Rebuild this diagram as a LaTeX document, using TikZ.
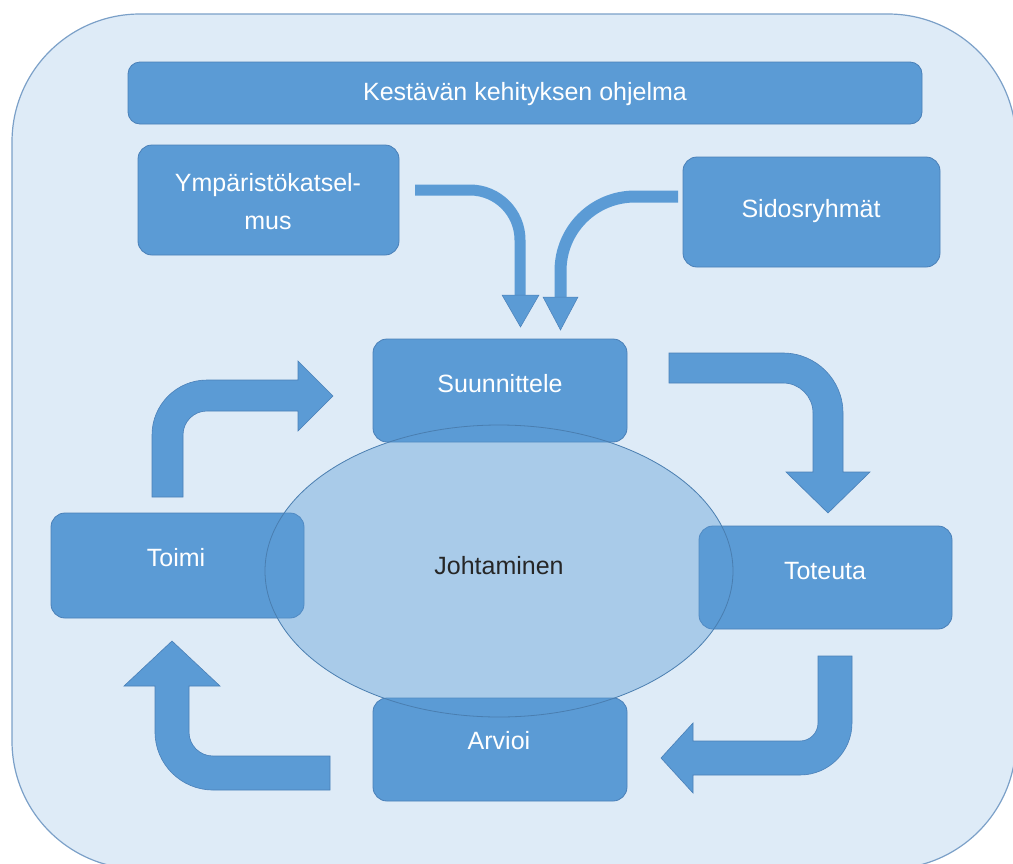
\documentclass[tikz,border=0pt]{standalone}
\usepackage{fontspec}
\setmainfont{Liberation Sans}
\definecolor{boxfill}{HTML}{5B9BD5}
\definecolor{boxline}{HTML}{4A80B8}
\definecolor{bgfill}{HTML}{DEEBF7}
\definecolor{bgline}{HTML}{7BA0C8}
\definecolor{elline}{HTML}{4A7EB0}
\definecolor{darktext}{HTML}{262626}
\begin{document}
\begin{tikzpicture}[x=1pt,y=-1pt,
  boxnode/.style={rectangle, rounded corners=14pt, fill=boxfill, draw=boxline, line width=0.8pt, inner sep=0pt},
  lbl/.style={font=\fontsize{25}{38}\selectfont, text=white, inner sep=0pt, text height=18pt, text depth=0pt},
  blockarrow/.style={fill=boxfill, draw=boxline, line width=0.6pt},
  thinarrow/.style={draw=boxfill, line cap=butt},
  thinhead/.style={fill=boxfill, draw=boxline, line width=0.5pt}]
\useasboundingbox (0,0) rectangle (1013,863);
% container (runs slightly past the right and bottom edges)
\begin{scope}
\clip (0,0) rectangle (1013,863);
\draw[fill=bgfill, draw=bgline, line width=1.2pt, rounded corners=128pt] (12,14) rectangle (1016,869);
\end{scope}
% boxes
\node[boxnode, rounded corners=12pt, minimum width=794pt, minimum height=62pt] (title) at (525,93) {};
\node[boxnode, minimum width=261pt, minimum height=110pt] (ymp) at (268.5,200) {};
\node[boxnode, minimum width=257pt, minimum height=110pt] (sid) at (811.5,212) {};
\node[boxnode, minimum width=254pt, minimum height=103pt] (suun) at (500,390.5) {};
\node[boxnode, minimum width=253pt, minimum height=105pt] (toimi) at (177.5,565.5) {};
\node[boxnode, minimum width=253pt, minimum height=103pt] (tot) at (825.5,577.5) {};
\node[boxnode, minimum width=254pt, minimum height=103pt] (arv) at (500,749.5) {};
% thin curved arrows from top boxes
\coordinate (t1s) at (415,190);
\coordinate (t1e) at (520,296);
\draw[thinarrow, line width=11pt] (t1s) -- (470,190) .. controls (497.6,190) and (520,212.4) .. (520,240) -- (t1e);
\fill[thinhead] (502,295) -- (539,295) -- (520.5,327) -- cycle;
\coordinate (t2s) at (678,196.5);
\coordinate (t2e) at (560.5,298);
\draw[thinarrow, line width=12pt] (t2s) -- (635,196.5) .. controls (593.6,196.5) and (560.5,229.6) .. (560.5,271) -- (t2e);
\fill[thinhead] (543,297) -- (578,297) -- (560.5,330) -- cycle;
% block arrows of the cycle
\filldraw[blockarrow] (669,353) -- (783,353) .. controls (816.1,353) and (843,379.9) .. (843,413) -- (843,472) -- (870,472) -- (828,513) -- (786,472) -- (813,472) -- (813,413) .. controls (813,396.4) and (799.6,383) .. (783,383) -- (669,383) -- cycle;
\filldraw[blockarrow] (818,656) -- (852,656) -- (852,723) .. controls (852,751.7) and (828.7,775) .. (800,775) -- (693,775) -- (693,793) -- (661,758) -- (693,723) -- (693,741) -- (800,741) .. controls (809.9,741) and (818,732.9) .. (818,723) -- cycle;
\filldraw[blockarrow] (330,756) -- (330,790) -- (213,790) .. controls (181,790) and (155,764) .. (155,732) -- (155,686) -- (124,686) -- (172,641) -- (220,686) -- (189,686) -- (189,732) .. controls (189,745.3) and (199.7,756) .. (213,756) -- cycle;
\filldraw[blockarrow] (152,497) -- (152,435) .. controls (152,404.6) and (176.6,380) .. (207,380) -- (298,380) -- (298,361) -- (333,396) -- (298,431) -- (298,411) -- (207,411) .. controls (193.7,411) and (183,421.7) .. (183,435) -- (183,497) -- cycle;
% ellipse
\draw[fill=boxfill, fill opacity=0.4, draw=elline, line width=0.8pt] (499,571) ellipse [x radius=234, y radius=146];
\node[inner sep=0pt] (joht) at (499,571) {};
% labels
\node[lbl] (titleT) at (525,91) {Kestävän kehityksen ohjelma};
\node[lbl, align=center, text height=, text depth=] (ympT) at (268,202) {Ympäristökatsel-\\mus};
\node[lbl] (sidT) at (811,208) {Sidosryhmät};
\node[lbl] (suunT) at (500,383) {Suunnittele};
\node[lbl] (toimiT) at (176,557) {Toimi};
\node[lbl] (totT) at (825,570) {Toteuta};
\node[lbl] (arvT) at (499,740) {Arvioi};
\node[lbl, text=darktext] (johtT) at (499,565) {Johtaminen};
\end{tikzpicture}
\end{document}
